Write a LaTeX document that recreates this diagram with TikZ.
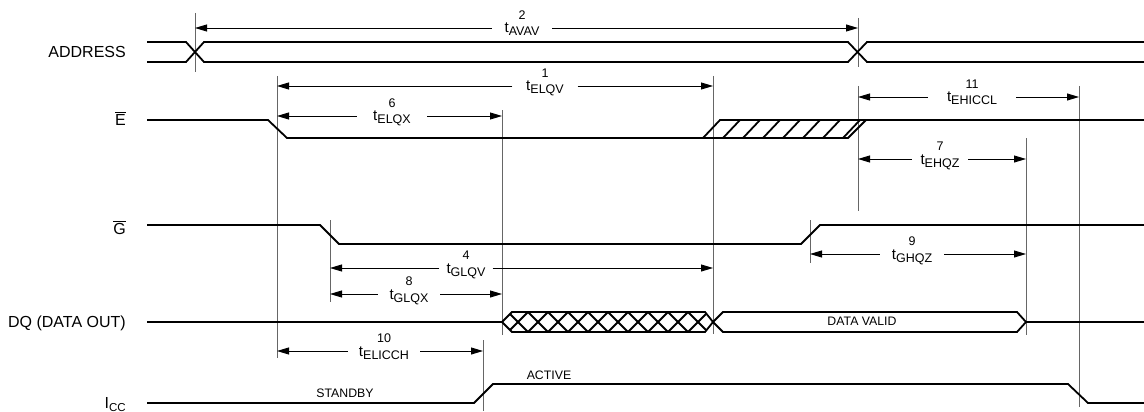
\documentclass[tikz,border=0pt]{standalone}
\usepackage{fontspec}
\setmainfont{Liberation Sans}
\usetikzlibrary{arrows.meta}

\newcommand\lowsub[2][12.5]{\raisebox{-3pt}{\fontsize{#1}{#1}\selectfont #2}}

\tikzset{
  sig/.style={line width=1.8pt},
  guide/.style={line width=0.9pt, color=black!60},
  dim/.style={line width=0.9pt, -{Triangle[length=12pt,width=7pt]}},
  tlab/.style={inner xsep=0pt, inner ysep=0pt, text height=12pt, text depth=2pt, font=\fontsize{15}{15}\selectfont},
  num/.style={inner sep=0pt, font=\fontsize{12.5}{12.5}\selectfont},
  sname/.style={anchor=base east, inner sep=0pt, font=\fontsize{16}{16}\selectfont},
  state/.style={inner sep=0pt, font=\fontsize{12.3}{12.3}\selectfont}
}

\begin{document}
\begin{tikzpicture}[x=1pt, y=-1pt, label distance=1pt]
	\useasboundingbox (0,0) rectangle (1144,412);

	\node[sname] (addr) at (126,58) {ADDRESS};
	\node[sname] (ebar) at (126,125) {$\overline{\mbox{E}}$};
	\node[sname] (gbar) at (126,234) {$\overline{\mbox{G}}$};
	\node[sname] (dq) at (126,327) {DQ (DATA OUT)};
	\node[sname] (icc) at (126,408) {I\lowsub[11.5]{CC}};

	\draw[guide] (195,13)--(195,72);
	\draw[guide] (858,18)--(858,67);
	\draw[guide] (858,86)--(858,211);
	\draw[guide] (277,76)--(277,358);
	\draw[guide] (713,76)--(713,334);
	\draw[guide] (502,110)--(502,335);
	\draw[guide] (1079,86)--(1079,407);
	\draw[guide] (1026,138)--(1026,335);
	\draw[guide] (330,220)--(330,302);
	\draw[guide] (810,220)--(810,263);
	\draw[guide] (483,340)--(483,411);

	\draw[sig] (147,42)--(186,42)--(204,62)--(848,62)--(867,42)--(1144,42);
	\draw[sig] (147,62)--(186,62)--(204,42)--(848,42)--(867,62)--(1144,62);

	\draw[sig] (147,120)--(268,120)--(287,138)--(848,138)--(866,120)--(1144,120);
	\draw[sig] (703,138)--(720,120)--(866,120);
	\foreach \k in {1,...,7}
		\draw[sig] (703+20*\k,138)--(720+20*\k,120);

	\draw[sig] (147,225)--(320,225)--(339,244)--(801,244)--(820,225)--(1144,225);

	\draw[sig] (147,322)--(502,322);
	\draw[sig] (502,322)--(512,312)--(705,312)--(713,322)--(705,332)--(512,332)--cycle;
	\begin{scope}
		\clip (502,322)--(512,312)--(705,312)--(713,322)--(705,332)--(512,332)--cycle;
		\foreach \c in {488,508,...,708} {
			\draw[sig] (\c,312)--(\c+20,332);
			\draw[sig] (\c,332)--(\c+20,312);
		}
	\end{scope}
	\draw[sig] (713,322)--(723,312)--(1017,312)--(1026,322)--(1017,332)--(723,332)--cycle;
	\draw[sig] (1026,322)--(1144,322);
	\node[state] (valid) at (862,321) {DATA VALID};

	\draw[sig] (147,403)--(474,403)--(493,384)--(1068,384)--(1088,403)--(1144,403);
	\node[state] (stby) at (345,393) {STANDBY};
	\node[state] (actv) at (549,375) {ACTIVE};

	\node[tlab, minimum width=60, label={[num]above:2}] (tAVAV) at (522,28) {t\lowsub{AVAV}};
	\coordinate (avL) at (195,28);
	\coordinate (avR) at (858,28);
	\draw[dim] (tAVAV)--(avL);
	\draw[dim] (tAVAV)--(avR);

	\node[tlab, minimum width=65, label={[num]above:1}] (tELQV) at (545,86) {t\lowsub{ELQV}};
	\coordinate (elqvL) at (277,86);
	\coordinate (elqvR) at (713,86);
	\draw[dim] (tELQV)--(elqvL);
	\draw[dim] (tELQV)--(elqvR);

	\node[tlab, minimum width=70, label={[num]above:6}] (tELQX) at (392,116) {t\lowsub{ELQX}};
	\coordinate (elqxL) at (277,116);
	\coordinate (elqxR) at (502,116);
	\draw[dim] (tELQX)--(elqxL);
	\draw[dim] (tELQX)--(elqxR);

	\node[tlab, minimum width=88, label={[num]above:11}] (tEHICCL) at (972,97) {t\lowsub{EHICCL}};
	\coordinate (ehiL) at (858,97);
	\coordinate (ehiR) at (1079,97);
	\draw[dim] (tEHICCL)--(ehiL);
	\draw[dim] (tEHICCL)--(ehiR);

	\node[tlab, minimum width=56, label={[num]above:7}] (tEHQZ) at (940,159) {t\lowsub{EHQZ}};
	\coordinate (ehqL) at (858,159);
	\coordinate (ehqR) at (1026,159);
	\draw[dim] (tEHQZ)--(ehqL);
	\draw[dim] (tEHQZ)--(ehqR);

	\node[tlab, minimum width=64, label={[num]above:9}] (tGHQZ) at (912,254) {t\lowsub{GHQZ}};
	\coordinate (ghqL) at (810,254);
	\coordinate (ghqR) at (1026,254);
	\draw[dim] (tGHQZ)--(ghqL);
	\draw[dim] (tGHQZ)--(ghqR);

	\node[tlab, minimum width=53, label={[num]above:4}] (tGLQV) at (466,268) {t\lowsub{GLQV}};
	\coordinate (glqvL) at (330,268);
	\coordinate (glqvR) at (713,268);
	\draw[dim] (tGLQV)--(glqvL);
	\draw[dim] (tGLQV)--(glqvR);

	\node[tlab, minimum width=62, label={[num]above:8}] (tGLQX) at (409,294) {t\lowsub{GLQX}};
	\coordinate (glqxL) at (330,294);
	\coordinate (glqxR) at (502,294);
	\draw[dim] (tGLQX)--(glqxL);
	\draw[dim] (tGLQX)--(glqxR);

	\node[tlab, minimum width=72, label={[num]above:10}] (tELICCH) at (384,351) {t\lowsub{ELICCH}};
	\coordinate (eliL) at (277,351);
	\coordinate (eliR) at (483,351);
	\draw[dim] (tELICCH)--(eliL);
	\draw[dim] (tELICCH)--(eliR);
\end{tikzpicture}
\end{document}
